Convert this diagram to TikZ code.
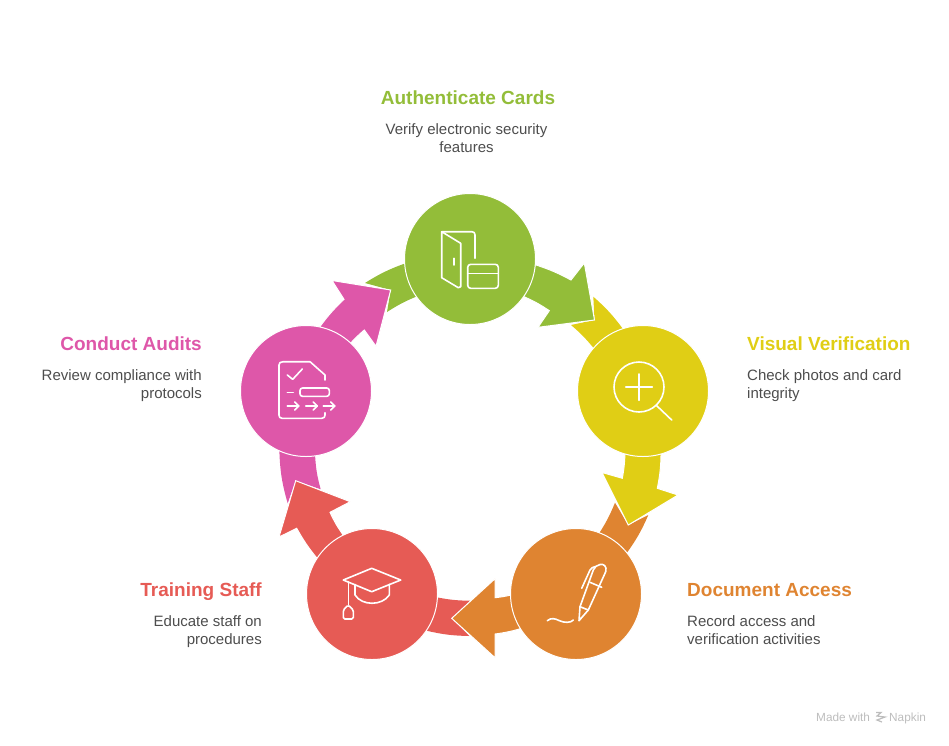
\documentclass[tikz,border=0pt]{standalone}
\usepackage{fontspec}
\setmainfont{Liberation Sans}
\usetikzlibrary{backgrounds}
\definecolor{cgreen}{HTML}{93BD39}
\definecolor{cyellow}{HTML}{E0CE15}
\definecolor{corange}{HTML}{DF8431}
\definecolor{cred}{HTML}{E65B55}
\definecolor{cpink}{HTML}{DE57A9}
\definecolor{ctext}{HTML}{4D4D4D}
\definecolor{cmark}{HTML}{BDBDBD}
\tikzset{
    stage/.style={circle,fill=#1,draw=white,line width=1pt,minimum size=131pt,inner sep=0pt,outer sep=0pt},
    tail/.style={fill=#1},
    head/.style={fill=#1,draw=white,line width=1pt,line join=miter},
    icon/.style={draw=white,line width=1.6pt,line cap=round,line join=round},
    title/.style={text=#1,font=\fontsize{19}{22}\bfseries\selectfont,inner sep=0pt},
    desc/.style={text=ctext,font=\fontsize{15}{18}\selectfont,inner sep=0pt}
}
\begin{document}
\begin{tikzpicture}[x=1pt,y=-1pt]
    \useasboundingbox (0,0) rectangle (949,745);
    \begin{scope}
        \node[stage=cgreen] (card) at (470,259) {};
        \node[stage=cyellow] (check) at (643,391) {};
        \node[stage=corange] (record) at (576,594) {};
        \node[stage=cred] (train) at (372,594) {};
        \node[stage=cpink] (audit) at (306,391) {};
    \end{scope}
    % arrow tips
    \coordinate (tipcard) at (594.5,320);
    \coordinate (tipcheck) at (628.3,525);
    \coordinate (tiprecord) at (451.7,618.3);
    \coordinate (tiptrain) at (295.7,480.7);
    \coordinate (tipaudit) at (390.7,290);
    \begin{scope}[on background layer]
        % tails
        \path[tail=cgreen] (card.184) to[bend right=6] (365,283) -- (tipaudit) -- (387,312) to[bend left=5] (card.215) -- cycle;
        \path[tail=cyellow] (check.108) to[bend right=6] (593.3,296.7) -- (tipcard) -- (571,325) to[bend left=5] (check.139) -- cycle;
        \path[tail=corange] (record.39) to[bend right=6] (648.3,515) -- (tipcheck) -- (615,502.7) to[bend left=5] (record.69) -- cycle;
        \path[tail=cred] (train.-3) to[bend right=5] (470,600.7) -- (tiprecord) -- (469.3,636) to[bend left=6] (train.-34) -- cycle;
        \path[tail=cpink] (audit.-114) to[bend right=7] (287.7,503.3) -- (tiptrain) -- (320.7,489.3) to[bend left=6] (audit.-82) -- cycle;
        % heads
        \path[head=cgreen] (card.-5) to[bend left=5] (571,280) -- (584.3,263) -- (tipcard) -- (538,327.3) -- (549.3,310.7) to[bend right=5] (card.-35) -- cycle;
        \path[head=cyellow] (check.-74) to[bend left=5] (657.3,488.3) -- (678,495) -- (tipcheck) -- (602,472.5) -- (622.3,478.3) to[bend right=4] (check.-106) -- cycle;
        \path[head=corange] (record.181) to[bend left=3] (495,597.7) -- (495,578.7) -- (tiprecord) -- (495,657.7) -- (495,634) to[bend right=4] (record.212) -- cycle;
        \path[head=cred] (train.116) to[bend left=5] (330,512.3) -- (350.3,501.7) -- (tiptrain) -- (279,537) -- (296.7,528.3) to[bend right=5] (train.147) -- cycle;
        \path[head=cpink] (audit.78) to[bend left=5] (344,299.3) -- (332,280.5) -- (tipaudit) -- (376,346.3) -- (364.3,330) to[bend right=3] (audit.47) -- cycle;
    \end{scope}
    % door and card
    \draw[icon] (441.7,231.7) -- (441.7,277.7) -- (458.3,287.7) -- (460.7,286.7) -- (460.7,243.3) -- cycle;
    \draw[icon] (441.7,231.7) -- (472,231.7) .. controls (474,231.7) and (475,233) .. (475,235) -- (475,258.3);
    \draw[icon] (454,258.3) -- (454,265);
    \draw[icon,rounded corners=3pt] (467.7,264.3) rectangle (498.3,288.3);
    \draw[icon] (467.7,273.3) -- (498.3,273.3);
    % magnifier
    \draw[icon] (639,387) circle (25);
    \draw[icon] (625.7,387) -- (652.3,387);
    \draw[icon] (639,374) -- (639,400.3);
    \draw[icon] (656.7,405.7) -- (671.7,420);
    % pen
    \draw[icon] (593.3,570) -- (580,606.7) -- (579,620.7) -- (588.3,610) -- (605.7,571.7) .. controls (607.5,566) and (603,563.5) .. (600,564.5) .. controls (597,565) and (594.5,567) .. (593.3,570);
    \draw[icon] (580,606.7) -- (588.3,610);
    \draw[icon] (590,582.3) -- (601.7,587.3);
    \draw[icon] (581.7,588.3) -- (590,570) .. controls (591,568) and (593,567) .. (595,566.7);
    \draw[icon] (547.3,620.7) .. controls (551,617.5) and (555,618.5) .. (559,620.5) .. controls (564,623) and (571,623) .. (573.3,620);
    % cap
    \draw[icon] (371.7,568.3) -- (400.7,580) -- (371.7,591.7) -- (343.3,580) -- cycle;
    \draw[icon] (355,584.3) -- (355,595) .. controls (362,606) and (382,606) .. (389.3,595) -- (389.3,584.3);
    \draw[icon] (348.3,581.7) -- (348.3,605);
    \draw[icon,rounded corners=1.5pt] (343.3,619) -- (343.3,610) -- (348.3,605) -- (353.3,610) -- (353.3,619) -- cycle;
    % document
    \draw[icon] (325,380) -- (325,375) -- (310,361.7) -- (283,361.7) .. controls (280.5,361.7) and (279,363) .. (279,365) -- (279,415) .. controls (279,417) and (280,418.3) .. (282,418.3) -- (321.7,418.3) .. controls (324,418.3) and (325,417) .. (325,415) -- (325,412.7);
    \draw[icon] (287.3,375) -- (292.7,379.3) -- (302.3,369);
    \draw[icon] (287.3,392.3) -- (293.3,392.3);
    \draw[icon,rounded corners=2.5pt] (300,388) rectangle (329.3,396.3);
    \foreach \x in {287.3,305.7,323.3} {
        \draw[icon] (\x,406) -- ++(11.5,0);
        \draw[icon] (\x+7.5,402) -- (\x+11.5,406) -- (\x+7.5,410);
    }
    % labels
    \node[title=cgreen,anchor=base] (t1) at (468,104) {Authenticate Cards};
    \node[desc,anchor=north,align=center] (d1) at (466.5,123) {Verify electronic security\\features};
    \node[title=cyellow,anchor=base west] (t2) at (747,350) {Visual Verification};
    \node[desc,anchor=north west,align=left] (d2) at (747,369.5) {Check photos and card\\integrity};
    \node[title=corange,anchor=base west] (t3) at (687,596) {Document Access};
    \node[desc,anchor=north west,align=left] (d3) at (687,615.5) {Record access and\\verification activities};
    \node[title=cred,anchor=base east] (t4) at (262,596) {Training Staff};
    \node[desc,anchor=north east,align=right] (d4) at (262,615.5) {Educate staff on\\procedures};
    \node[title=cpink,anchor=base east] (t5) at (202,350) {Conduct Audits};
    \node[desc,anchor=north east,align=right] (d5) at (202,369.5) {Review compliance with\\protocols};
    % mark
    \node[text=cmark,font=\fontsize{11.8}{13}\selectfont,anchor=base west,inner sep=0pt] (m1) at (816,721) {Made with};
    \node[text=cmark,font=\fontsize{11.8}{13}\selectfont,anchor=base west,inner sep=0pt] (m2) at (889,721) {Napkin};
    \draw[cmark,line width=1.2pt] (876,712.5) -- (881,712.5) -- (877,716) -- (885,717) -- (877,720) -- (882,722);
\end{tikzpicture}
\end{document}
